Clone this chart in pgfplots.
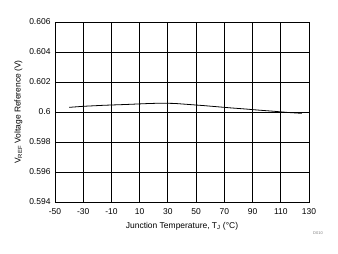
\documentclass[border=0pt]{standalone}
\usepackage{fontspec}
\setmainfont{Liberation Sans}
\usepackage{pgfplots}
\pgfplotsset{compat=1.18}
\begin{document}
\begin{tikzpicture}[x=1bp,y=1bp]
\path[use as bounding box] (-55,-52) rectangle (283,202);
\begin{axis}[
  at={(0,0)}, anchor=south west,
  scale only axis, width=254bp, height=180bp,
  xmin=-50, xmax=130, ymin=0.594, ymax=0.606,
  xtick={-50,-30,...,130},
  ytick={0.594,0.596,...,0.6061},
  yticklabels={0.594,0.596,0.598,0.6,0.602,0.604,0.606},
  grid=major,
  major grid style={draw=black, line width=1pt},
  axis line style={black, line width=1pt},
  major tick length=0pt,
  /pgf/number format/assume math mode=true,
  tick label style={font=\fontsize{8.5}{9}\selectfont},
  xticklabel style={yshift=-3pt},
  yticklabel style={xshift=-1pt},
  label style={font=\fontsize{8.5}{9}\selectfont},
  xlabel={Junction Temperature, T\textsubscript{J} (°C)},
  ylabel={V\textsubscript{REF} Voltage Reference (V)},
  xlabel style={yshift=-1pt},
  ylabel style={yshift=0pt},
]
\addplot[black, line width=0.8pt] coordinates {
(-40,0.60031) (-30,0.60038) (-15,0.60045) (0,0.60050) (15,0.60056) (25,0.60059)
(35,0.60057) (45,0.60050) (55,0.60043) (65,0.60035) (75,0.60027) (85,0.60020)
(95,0.60012) (105,0.60005) (115,0.59997) (125,0.59991)
};
\end{axis}
\node[gray, font=\fontsize{4}{4}\selectfont] at (263,-31) {D010};
\end{tikzpicture}
\end{document}
